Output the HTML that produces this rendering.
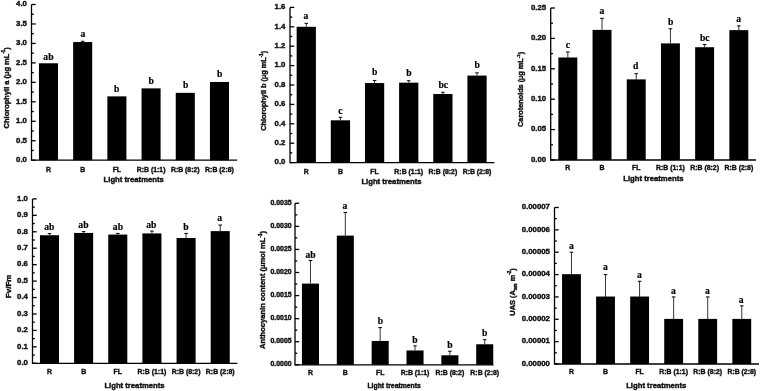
<!DOCTYPE html>
<html><head><meta charset="utf-8"><style>
html,body{margin:0;padding:0;background:#fff;}
svg{display:block;}
.s{stroke:#111;stroke-width:0.4px;}
.l{stroke:#000;stroke-width:0.2px;}
</style></head><body>
<svg width="760" height="391" viewBox="0 0 760 391">
<defs>
<filter id="bs" x="0" y="0" width="760" height="391" filterUnits="userSpaceOnUse"><feGaussianBlur stdDeviation="0.7"/></filter>
<filter id="bt" x="0" y="0" width="760" height="391" filterUnits="userSpaceOnUse"><feGaussianBlur stdDeviation="0.5"/></filter>
</defs>
<rect width="760" height="391" fill="#fff"/>
<g filter="url(#bs)">
<rect x="38.95" y="63.28" width="19.05" height="96.92" fill="#000"/>
<rect x="73.15" y="42.06" width="19.05" height="118.14" fill="#000"/>
<line x1="82.68" y1="42.06" x2="82.68" y2="41.28" stroke="#000" stroke-width="0.8"/>
<line x1="80.88" y1="41.28" x2="84.48" y2="41.28" stroke="#000" stroke-width="1"/>
<rect x="107.35" y="96.36" width="19.05" height="63.84" fill="#000"/>
<rect x="141.55" y="88.38" width="19.05" height="71.82" fill="#000"/>
<rect x="175.75" y="92.86" width="19.05" height="67.34" fill="#000"/>
<rect x="209.95" y="81.96" width="19.05" height="78.24" fill="#000"/>
<path d="M31.5 4.5 V160.2 H237.2" fill="none" stroke="#000" stroke-width="1.3"/>
<line x1="31.5" y1="160.2" x2="35.7" y2="160.2" stroke="#000" stroke-width="1.3"/>
<line x1="31.5" y1="150.47" x2="33.8" y2="150.47" stroke="#000" stroke-width="1.3"/>
<line x1="31.5" y1="140.74" x2="35.7" y2="140.74" stroke="#000" stroke-width="1.3"/>
<line x1="31.5" y1="131.01" x2="33.8" y2="131.01" stroke="#000" stroke-width="1.3"/>
<line x1="31.5" y1="121.27" x2="35.7" y2="121.27" stroke="#000" stroke-width="1.3"/>
<line x1="31.5" y1="111.54" x2="33.8" y2="111.54" stroke="#000" stroke-width="1.3"/>
<line x1="31.5" y1="101.81" x2="35.7" y2="101.81" stroke="#000" stroke-width="1.3"/>
<line x1="31.5" y1="92.08" x2="33.8" y2="92.08" stroke="#000" stroke-width="1.3"/>
<line x1="31.5" y1="82.35" x2="35.7" y2="82.35" stroke="#000" stroke-width="1.3"/>
<line x1="31.5" y1="72.62" x2="33.8" y2="72.62" stroke="#000" stroke-width="1.3"/>
<line x1="31.5" y1="62.89" x2="35.7" y2="62.89" stroke="#000" stroke-width="1.3"/>
<line x1="31.5" y1="53.16" x2="33.8" y2="53.16" stroke="#000" stroke-width="1.3"/>
<line x1="31.5" y1="43.42" x2="35.7" y2="43.42" stroke="#000" stroke-width="1.3"/>
<line x1="31.5" y1="33.69" x2="33.8" y2="33.69" stroke="#000" stroke-width="1.3"/>
<line x1="31.5" y1="23.96" x2="35.7" y2="23.96" stroke="#000" stroke-width="1.3"/>
<line x1="31.5" y1="14.23" x2="33.8" y2="14.23" stroke="#000" stroke-width="1.3"/>
<line x1="31.5" y1="4.5" x2="35.7" y2="4.5" stroke="#000" stroke-width="1.3"/>
<rect x="296.65" y="26.8" width="19.25" height="135.8" fill="#000"/>
<line x1="306.27" y1="26.8" x2="306.27" y2="23.31" stroke="#000" stroke-width="0.8"/>
<line x1="304.47" y1="23.31" x2="308.07" y2="23.31" stroke="#000" stroke-width="1"/>
<rect x="330.8" y="120.31" width="19.25" height="42.29" fill="#000"/>
<line x1="340.42" y1="120.31" x2="340.42" y2="117.3" stroke="#000" stroke-width="0.8"/>
<line x1="338.62" y1="117.3" x2="342.22" y2="117.3" stroke="#000" stroke-width="1"/>
<rect x="364.95" y="83.06" width="19.25" height="79.54" fill="#000"/>
<line x1="374.57" y1="83.06" x2="374.57" y2="80.44" stroke="#000" stroke-width="0.8"/>
<line x1="372.77" y1="80.44" x2="376.38" y2="80.44" stroke="#000" stroke-width="1"/>
<rect x="399.1" y="82.67" width="19.25" height="79.93" fill="#000"/>
<line x1="408.72" y1="82.67" x2="408.72" y2="80.73" stroke="#000" stroke-width="0.8"/>
<line x1="406.92" y1="80.73" x2="410.52" y2="80.73" stroke="#000" stroke-width="1"/>
<rect x="433.25" y="94.02" width="19.25" height="68.58" fill="#000"/>
<line x1="442.88" y1="94.02" x2="442.88" y2="92.28" stroke="#000" stroke-width="0.8"/>
<line x1="441.07" y1="92.28" x2="444.68" y2="92.28" stroke="#000" stroke-width="1"/>
<rect x="467.4" y="75.59" width="19.25" height="87.01" fill="#000"/>
<line x1="477.02" y1="75.59" x2="477.02" y2="72.88" stroke="#000" stroke-width="0.8"/>
<line x1="475.22" y1="72.88" x2="478.82" y2="72.88" stroke="#000" stroke-width="1"/>
<path d="M290 7.4 V162.6 H494.4" fill="none" stroke="#000" stroke-width="1.3"/>
<line x1="290" y1="162.6" x2="294.2" y2="162.6" stroke="#000" stroke-width="1.3"/>
<line x1="290" y1="152.9" x2="292.3" y2="152.9" stroke="#000" stroke-width="1.3"/>
<line x1="290" y1="143.2" x2="294.2" y2="143.2" stroke="#000" stroke-width="1.3"/>
<line x1="290" y1="133.5" x2="292.3" y2="133.5" stroke="#000" stroke-width="1.3"/>
<line x1="290" y1="123.8" x2="294.2" y2="123.8" stroke="#000" stroke-width="1.3"/>
<line x1="290" y1="114.1" x2="292.3" y2="114.1" stroke="#000" stroke-width="1.3"/>
<line x1="290" y1="104.4" x2="294.2" y2="104.4" stroke="#000" stroke-width="1.3"/>
<line x1="290" y1="94.7" x2="292.3" y2="94.7" stroke="#000" stroke-width="1.3"/>
<line x1="290" y1="85" x2="294.2" y2="85" stroke="#000" stroke-width="1.3"/>
<line x1="290" y1="75.3" x2="292.3" y2="75.3" stroke="#000" stroke-width="1.3"/>
<line x1="290" y1="65.6" x2="294.2" y2="65.6" stroke="#000" stroke-width="1.3"/>
<line x1="290" y1="55.9" x2="292.3" y2="55.9" stroke="#000" stroke-width="1.3"/>
<line x1="290" y1="46.2" x2="294.2" y2="46.2" stroke="#000" stroke-width="1.3"/>
<line x1="290" y1="36.5" x2="292.3" y2="36.5" stroke="#000" stroke-width="1.3"/>
<line x1="290" y1="26.8" x2="294.2" y2="26.8" stroke="#000" stroke-width="1.3"/>
<line x1="290" y1="17.1" x2="292.3" y2="17.1" stroke="#000" stroke-width="1.3"/>
<line x1="290" y1="7.4" x2="294.2" y2="7.4" stroke="#000" stroke-width="1.3"/>
<rect x="558.35" y="57.49" width="18.95" height="102.51" fill="#000"/>
<line x1="567.83" y1="57.49" x2="567.83" y2="52.02" stroke="#000" stroke-width="0.8"/>
<line x1="566.03" y1="52.02" x2="569.62" y2="52.02" stroke="#000" stroke-width="1"/>
<rect x="592.55" y="29.89" width="18.95" height="130.11" fill="#000"/>
<line x1="602.03" y1="29.89" x2="602.03" y2="18.34" stroke="#000" stroke-width="0.8"/>
<line x1="600.23" y1="18.34" x2="603.83" y2="18.34" stroke="#000" stroke-width="1"/>
<rect x="626.75" y="79.38" width="18.95" height="80.62" fill="#000"/>
<line x1="636.23" y1="79.38" x2="636.23" y2="73.66" stroke="#000" stroke-width="0.8"/>
<line x1="634.43" y1="73.66" x2="638.02" y2="73.66" stroke="#000" stroke-width="1"/>
<rect x="660.95" y="43.39" width="18.95" height="116.61" fill="#000"/>
<line x1="670.43" y1="43.39" x2="670.43" y2="28.79" stroke="#000" stroke-width="0.8"/>
<line x1="668.63" y1="28.79" x2="672.23" y2="28.79" stroke="#000" stroke-width="1"/>
<rect x="695.15" y="47.22" width="18.95" height="112.78" fill="#000"/>
<line x1="704.63" y1="47.22" x2="704.63" y2="44.48" stroke="#000" stroke-width="0.8"/>
<line x1="702.83" y1="44.48" x2="706.43" y2="44.48" stroke="#000" stroke-width="1"/>
<rect x="729.35" y="30.13" width="18.95" height="129.87" fill="#000"/>
<line x1="738.83" y1="30.13" x2="738.83" y2="25.88" stroke="#000" stroke-width="0.8"/>
<line x1="737.03" y1="25.88" x2="740.62" y2="25.88" stroke="#000" stroke-width="1"/>
<path d="M550.7 8 V160 H756" fill="none" stroke="#000" stroke-width="1.3"/>
<line x1="550.7" y1="160" x2="554.9" y2="160" stroke="#000" stroke-width="1.3"/>
<line x1="550.7" y1="144.8" x2="553" y2="144.8" stroke="#000" stroke-width="1.3"/>
<line x1="550.7" y1="129.6" x2="554.9" y2="129.6" stroke="#000" stroke-width="1.3"/>
<line x1="550.7" y1="114.4" x2="553" y2="114.4" stroke="#000" stroke-width="1.3"/>
<line x1="550.7" y1="99.2" x2="554.9" y2="99.2" stroke="#000" stroke-width="1.3"/>
<line x1="550.7" y1="84" x2="553" y2="84" stroke="#000" stroke-width="1.3"/>
<line x1="550.7" y1="68.8" x2="554.9" y2="68.8" stroke="#000" stroke-width="1.3"/>
<line x1="550.7" y1="53.6" x2="553" y2="53.6" stroke="#000" stroke-width="1.3"/>
<line x1="550.7" y1="38.4" x2="554.9" y2="38.4" stroke="#000" stroke-width="1.3"/>
<line x1="550.7" y1="23.2" x2="553" y2="23.2" stroke="#000" stroke-width="1.3"/>
<line x1="550.7" y1="8" x2="554.9" y2="8" stroke="#000" stroke-width="1.3"/>
<rect x="39.95" y="235.23" width="19.05" height="128.07" fill="#000"/>
<line x1="49.48" y1="235.23" x2="49.48" y2="233.59" stroke="#000" stroke-width="0.8"/>
<line x1="47.68" y1="233.59" x2="51.27" y2="233.59" stroke="#000" stroke-width="1"/>
<rect x="74.1" y="232.93" width="19.05" height="130.37" fill="#000"/>
<line x1="83.62" y1="232.93" x2="83.62" y2="231.62" stroke="#000" stroke-width="0.8"/>
<line x1="81.83" y1="231.62" x2="85.42" y2="231.62" stroke="#000" stroke-width="1"/>
<rect x="108.25" y="234.57" width="19.05" height="128.73" fill="#000"/>
<line x1="117.78" y1="234.57" x2="117.78" y2="233.42" stroke="#000" stroke-width="0.8"/>
<line x1="115.98" y1="233.42" x2="119.58" y2="233.42" stroke="#000" stroke-width="1"/>
<rect x="142.4" y="233.42" width="19.05" height="129.88" fill="#000"/>
<line x1="151.92" y1="233.42" x2="151.92" y2="231.12" stroke="#000" stroke-width="0.8"/>
<line x1="150.12" y1="231.12" x2="153.72" y2="231.12" stroke="#000" stroke-width="1"/>
<rect x="176.55" y="238.03" width="19.05" height="125.27" fill="#000"/>
<line x1="186.08" y1="238.03" x2="186.08" y2="233.42" stroke="#000" stroke-width="0.8"/>
<line x1="184.28" y1="233.42" x2="187.88" y2="233.42" stroke="#000" stroke-width="1"/>
<rect x="210.7" y="231.12" width="19.05" height="132.18" fill="#000"/>
<line x1="220.22" y1="231.12" x2="220.22" y2="225.04" stroke="#000" stroke-width="0.8"/>
<line x1="218.42" y1="225.04" x2="222.03" y2="225.04" stroke="#000" stroke-width="1"/>
<path d="M32.5 198.9 V363.3 H237.4" fill="none" stroke="#000" stroke-width="1.3"/>
<line x1="32.5" y1="363.3" x2="36.7" y2="363.3" stroke="#000" stroke-width="1.3"/>
<line x1="32.5" y1="355.08" x2="34.8" y2="355.08" stroke="#000" stroke-width="1.3"/>
<line x1="32.5" y1="346.86" x2="36.7" y2="346.86" stroke="#000" stroke-width="1.3"/>
<line x1="32.5" y1="338.64" x2="34.8" y2="338.64" stroke="#000" stroke-width="1.3"/>
<line x1="32.5" y1="330.42" x2="36.7" y2="330.42" stroke="#000" stroke-width="1.3"/>
<line x1="32.5" y1="322.2" x2="34.8" y2="322.2" stroke="#000" stroke-width="1.3"/>
<line x1="32.5" y1="313.98" x2="36.7" y2="313.98" stroke="#000" stroke-width="1.3"/>
<line x1="32.5" y1="305.76" x2="34.8" y2="305.76" stroke="#000" stroke-width="1.3"/>
<line x1="32.5" y1="297.54" x2="36.7" y2="297.54" stroke="#000" stroke-width="1.3"/>
<line x1="32.5" y1="289.32" x2="34.8" y2="289.32" stroke="#000" stroke-width="1.3"/>
<line x1="32.5" y1="281.1" x2="36.7" y2="281.1" stroke="#000" stroke-width="1.3"/>
<line x1="32.5" y1="272.88" x2="34.8" y2="272.88" stroke="#000" stroke-width="1.3"/>
<line x1="32.5" y1="264.66" x2="36.7" y2="264.66" stroke="#000" stroke-width="1.3"/>
<line x1="32.5" y1="256.44" x2="34.8" y2="256.44" stroke="#000" stroke-width="1.3"/>
<line x1="32.5" y1="248.22" x2="36.7" y2="248.22" stroke="#000" stroke-width="1.3"/>
<line x1="32.5" y1="240" x2="34.8" y2="240" stroke="#000" stroke-width="1.3"/>
<line x1="32.5" y1="231.78" x2="36.7" y2="231.78" stroke="#000" stroke-width="1.3"/>
<line x1="32.5" y1="223.56" x2="34.8" y2="223.56" stroke="#000" stroke-width="1.3"/>
<line x1="32.5" y1="215.34" x2="36.7" y2="215.34" stroke="#000" stroke-width="1.3"/>
<line x1="32.5" y1="207.12" x2="34.8" y2="207.12" stroke="#000" stroke-width="1.3"/>
<line x1="32.5" y1="198.9" x2="36.7" y2="198.9" stroke="#000" stroke-width="1.3"/>
<rect x="301.95" y="283.59" width="17.05" height="81.21" fill="#000"/>
<line x1="310.47" y1="283.59" x2="310.47" y2="260.52" stroke="#000" stroke-width="0.8"/>
<line x1="308.67" y1="260.52" x2="312.27" y2="260.52" stroke="#000" stroke-width="1"/>
<rect x="336.8" y="235.6" width="17.05" height="129.2" fill="#000"/>
<line x1="345.32" y1="235.6" x2="345.32" y2="212.53" stroke="#000" stroke-width="0.8"/>
<line x1="343.52" y1="212.53" x2="347.12" y2="212.53" stroke="#000" stroke-width="1"/>
<rect x="371.65" y="340.94" width="17.05" height="23.86" fill="#000"/>
<line x1="380.17" y1="340.94" x2="380.17" y2="327.61" stroke="#000" stroke-width="0.8"/>
<line x1="378.37" y1="327.61" x2="381.97" y2="327.61" stroke="#000" stroke-width="1"/>
<rect x="406.5" y="350.45" width="17.05" height="14.35" fill="#000"/>
<line x1="415.02" y1="350.45" x2="415.02" y2="345.88" stroke="#000" stroke-width="0.8"/>
<line x1="413.22" y1="345.88" x2="416.82" y2="345.88" stroke="#000" stroke-width="1"/>
<rect x="441.35" y="355.29" width="17.05" height="9.51" fill="#000"/>
<line x1="449.88" y1="355.29" x2="449.88" y2="351.19" stroke="#000" stroke-width="0.8"/>
<line x1="448.07" y1="351.19" x2="451.68" y2="351.19" stroke="#000" stroke-width="1"/>
<rect x="476.2" y="344.27" width="17.05" height="20.53" fill="#000"/>
<line x1="484.72" y1="344.27" x2="484.72" y2="339.7" stroke="#000" stroke-width="0.8"/>
<line x1="482.92" y1="339.7" x2="486.52" y2="339.7" stroke="#000" stroke-width="1"/>
<path d="M295 203.3 V364.8 H493.5" fill="none" stroke="#000" stroke-width="1.3"/>
<line x1="295" y1="364.8" x2="299.2" y2="364.8" stroke="#000" stroke-width="1.3"/>
<line x1="295" y1="353.26" x2="297.3" y2="353.26" stroke="#000" stroke-width="1.3"/>
<line x1="295" y1="341.73" x2="299.2" y2="341.73" stroke="#000" stroke-width="1.3"/>
<line x1="295" y1="330.19" x2="297.3" y2="330.19" stroke="#000" stroke-width="1.3"/>
<line x1="295" y1="318.66" x2="299.2" y2="318.66" stroke="#000" stroke-width="1.3"/>
<line x1="295" y1="307.12" x2="297.3" y2="307.12" stroke="#000" stroke-width="1.3"/>
<line x1="295" y1="295.59" x2="299.2" y2="295.59" stroke="#000" stroke-width="1.3"/>
<line x1="295" y1="284.05" x2="297.3" y2="284.05" stroke="#000" stroke-width="1.3"/>
<line x1="295" y1="272.51" x2="299.2" y2="272.51" stroke="#000" stroke-width="1.3"/>
<line x1="295" y1="260.98" x2="297.3" y2="260.98" stroke="#000" stroke-width="1.3"/>
<line x1="295" y1="249.44" x2="299.2" y2="249.44" stroke="#000" stroke-width="1.3"/>
<line x1="295" y1="237.91" x2="297.3" y2="237.91" stroke="#000" stroke-width="1.3"/>
<line x1="295" y1="226.37" x2="299.2" y2="226.37" stroke="#000" stroke-width="1.3"/>
<line x1="295" y1="214.84" x2="297.3" y2="214.84" stroke="#000" stroke-width="1.3"/>
<line x1="295" y1="203.3" x2="299.2" y2="203.3" stroke="#000" stroke-width="1.3"/>
<rect x="562.05" y="274.17" width="18.85" height="89.83" fill="#000"/>
<line x1="571.47" y1="274.57" x2="571.47" y2="252.21" stroke="#000" stroke-width="0.8"/>
<line x1="569.67" y1="252.21" x2="573.27" y2="252.21" stroke="#000" stroke-width="1"/>
<rect x="596.11" y="296.53" width="18.85" height="67.47" fill="#000"/>
<line x1="605.53" y1="296.93" x2="605.53" y2="274.57" stroke="#000" stroke-width="0.8"/>
<line x1="603.73" y1="274.57" x2="607.33" y2="274.57" stroke="#000" stroke-width="1"/>
<rect x="630.17" y="296.53" width="18.85" height="67.47" fill="#000"/>
<line x1="639.59" y1="296.93" x2="639.59" y2="281.28" stroke="#000" stroke-width="0.8"/>
<line x1="637.79" y1="281.28" x2="641.39" y2="281.28" stroke="#000" stroke-width="1"/>
<rect x="664.23" y="318.89" width="18.85" height="45.11" fill="#000"/>
<line x1="673.65" y1="319.29" x2="673.65" y2="296.93" stroke="#000" stroke-width="0.8"/>
<line x1="671.86" y1="296.93" x2="675.45" y2="296.93" stroke="#000" stroke-width="1"/>
<rect x="698.29" y="318.89" width="18.85" height="45.11" fill="#000"/>
<line x1="707.71" y1="319.29" x2="707.71" y2="296.93" stroke="#000" stroke-width="0.8"/>
<line x1="705.91" y1="296.93" x2="709.51" y2="296.93" stroke="#000" stroke-width="1"/>
<rect x="732.35" y="318.89" width="18.85" height="45.11" fill="#000"/>
<line x1="741.77" y1="319.29" x2="741.77" y2="305.87" stroke="#000" stroke-width="0.8"/>
<line x1="739.97" y1="305.87" x2="743.57" y2="305.87" stroke="#000" stroke-width="1"/>
<path d="M554.5 207.5 V364 H759" fill="none" stroke="#000" stroke-width="1.3"/>
<line x1="554.5" y1="364" x2="558.7" y2="364" stroke="#000" stroke-width="1.3"/>
<line x1="554.5" y1="352.82" x2="556.8" y2="352.82" stroke="#000" stroke-width="1.3"/>
<line x1="554.5" y1="341.64" x2="558.7" y2="341.64" stroke="#000" stroke-width="1.3"/>
<line x1="554.5" y1="330.46" x2="556.8" y2="330.46" stroke="#000" stroke-width="1.3"/>
<line x1="554.5" y1="319.29" x2="558.7" y2="319.29" stroke="#000" stroke-width="1.3"/>
<line x1="554.5" y1="308.11" x2="556.8" y2="308.11" stroke="#000" stroke-width="1.3"/>
<line x1="554.5" y1="296.93" x2="558.7" y2="296.93" stroke="#000" stroke-width="1.3"/>
<line x1="554.5" y1="285.75" x2="556.8" y2="285.75" stroke="#000" stroke-width="1.3"/>
<line x1="554.5" y1="274.57" x2="558.7" y2="274.57" stroke="#000" stroke-width="1.3"/>
<line x1="554.5" y1="263.39" x2="556.8" y2="263.39" stroke="#000" stroke-width="1.3"/>
<line x1="554.5" y1="252.21" x2="558.7" y2="252.21" stroke="#000" stroke-width="1.3"/>
<line x1="554.5" y1="241.04" x2="556.8" y2="241.04" stroke="#000" stroke-width="1.3"/>
<line x1="554.5" y1="229.86" x2="558.7" y2="229.86" stroke="#000" stroke-width="1.3"/>
<line x1="554.5" y1="218.68" x2="556.8" y2="218.68" stroke="#000" stroke-width="1.3"/>
<line x1="554.5" y1="207.5" x2="558.7" y2="207.5" stroke="#000" stroke-width="1.3"/>
</g>
<g filter="url(#bt)">
<text x="48.4" y="59.7" text-anchor="middle" class="l" font-family='"Liberation Serif", serif' font-weight="bold" font-size="9.6" fill="#000">ab</text>
<text x="48.48" y="172.17" text-anchor="middle" class="s" font-family='"Liberation Sans", sans-serif' font-weight="bold" font-size="6.9" fill="#111">R</text>
<text x="82.8" y="37" text-anchor="middle" class="l" font-family='"Liberation Serif", serif' font-weight="bold" font-size="9.6" fill="#000">a</text>
<text x="82.68" y="172.17" text-anchor="middle" class="s" font-family='"Liberation Sans", sans-serif' font-weight="bold" font-size="6.9" fill="#111">B</text>
<text x="116.6" y="91.9" text-anchor="middle" class="l" font-family='"Liberation Serif", serif' font-weight="bold" font-size="9.6" fill="#000">b</text>
<text x="116.88" y="172.17" text-anchor="middle" class="s" font-family='"Liberation Sans", sans-serif' font-weight="bold" font-size="6.9" fill="#111">FL</text>
<text x="151.2" y="83.6" text-anchor="middle" class="l" font-family='"Liberation Serif", serif' font-weight="bold" font-size="9.6" fill="#000">b</text>
<text x="151.08" y="172.17" text-anchor="middle" class="s" font-family='"Liberation Sans", sans-serif' font-weight="bold" font-size="6.9" fill="#111">R:B (1:1)</text>
<text x="185.6" y="87.9" text-anchor="middle" class="l" font-family='"Liberation Serif", serif' font-weight="bold" font-size="9.6" fill="#000">b</text>
<text x="185.28" y="172.17" text-anchor="middle" class="s" font-family='"Liberation Sans", sans-serif' font-weight="bold" font-size="6.9" fill="#111">R:B (8:2)</text>
<text x="219.7" y="77.4" text-anchor="middle" class="l" font-family='"Liberation Serif", serif' font-weight="bold" font-size="9.6" fill="#000">b</text>
<text x="219.47" y="172.17" text-anchor="middle" class="s" font-family='"Liberation Sans", sans-serif' font-weight="bold" font-size="6.9" fill="#111">R:B (2:8)</text>
<text x="26.9" y="162.03" text-anchor="end" class="s" font-family='"Liberation Sans", sans-serif' font-weight="bold" font-size="7.8" fill="#111">0.0</text>
<text x="26.9" y="142.57" text-anchor="end" class="s" font-family='"Liberation Sans", sans-serif' font-weight="bold" font-size="7.8" fill="#111">0.5</text>
<text x="26.9" y="123.11" text-anchor="end" class="s" font-family='"Liberation Sans", sans-serif' font-weight="bold" font-size="7.8" fill="#111">1.0</text>
<text x="26.9" y="103.65" text-anchor="end" class="s" font-family='"Liberation Sans", sans-serif' font-weight="bold" font-size="7.8" fill="#111">1.5</text>
<text x="26.9" y="84.18" text-anchor="end" class="s" font-family='"Liberation Sans", sans-serif' font-weight="bold" font-size="7.8" fill="#111">2.0</text>
<text x="26.9" y="64.72" text-anchor="end" class="s" font-family='"Liberation Sans", sans-serif' font-weight="bold" font-size="7.8" fill="#111">2.5</text>
<text x="26.9" y="45.26" text-anchor="end" class="s" font-family='"Liberation Sans", sans-serif' font-weight="bold" font-size="7.8" fill="#111">3.0</text>
<text x="26.9" y="25.8" text-anchor="end" class="s" font-family='"Liberation Sans", sans-serif' font-weight="bold" font-size="7.8" fill="#111">3.5</text>
<text x="26.9" y="6.33" text-anchor="end" class="s" font-family='"Liberation Sans", sans-serif' font-weight="bold" font-size="7.8" fill="#111">4.0</text>
<text x="133.7" y="181.61" text-anchor="middle" class="s" font-family='"Liberation Sans", sans-serif' font-weight="bold" font-size="7.7" fill="#111">Light treatments</text>
<text x="0" y="0" transform="translate(8.8 87.8) rotate(-90)" text-anchor="middle" class="s" font-family='"Liberation Sans", sans-serif' font-weight="bold" font-size="7.5" fill="#111">Chlorophyll a (<tspan font-weight="normal">µ</tspan>g mL<tspan font-size="4.5" dy="-3.4">-1</tspan><tspan dy="3.4">)</tspan></text>
<text x="306" y="18.6" text-anchor="middle" class="l" font-family='"Liberation Serif", serif' font-weight="bold" font-size="9.6" fill="#000">a</text>
<text x="306.27" y="173.67" text-anchor="middle" class="s" font-family='"Liberation Sans", sans-serif' font-weight="bold" font-size="6.9" fill="#111">R</text>
<text x="340.5" y="114" text-anchor="middle" class="l" font-family='"Liberation Serif", serif' font-weight="bold" font-size="9.6" fill="#000">c</text>
<text x="340.42" y="173.67" text-anchor="middle" class="s" font-family='"Liberation Sans", sans-serif' font-weight="bold" font-size="6.9" fill="#111">B</text>
<text x="374.7" y="75.4" text-anchor="middle" class="l" font-family='"Liberation Serif", serif' font-weight="bold" font-size="9.6" fill="#000">b</text>
<text x="374.57" y="173.67" text-anchor="middle" class="s" font-family='"Liberation Sans", sans-serif' font-weight="bold" font-size="6.9" fill="#111">FL</text>
<text x="408.8" y="76.1" text-anchor="middle" class="l" font-family='"Liberation Serif", serif' font-weight="bold" font-size="9.6" fill="#000">b</text>
<text x="408.72" y="173.67" text-anchor="middle" class="s" font-family='"Liberation Sans", sans-serif' font-weight="bold" font-size="6.9" fill="#111">R:B (1:1)</text>
<text x="443.2" y="88.3" text-anchor="middle" class="l" font-family='"Liberation Serif", serif' font-weight="bold" font-size="9.6" fill="#000">bc</text>
<text x="442.88" y="173.67" text-anchor="middle" class="s" font-family='"Liberation Sans", sans-serif' font-weight="bold" font-size="6.9" fill="#111">R:B (8:2)</text>
<text x="477.1" y="67.9" text-anchor="middle" class="l" font-family='"Liberation Serif", serif' font-weight="bold" font-size="9.6" fill="#000">b</text>
<text x="477.02" y="173.67" text-anchor="middle" class="s" font-family='"Liberation Sans", sans-serif' font-weight="bold" font-size="6.9" fill="#111">R:B (2:8)</text>
<text x="285.4" y="164.43" text-anchor="end" class="s" font-family='"Liberation Sans", sans-serif' font-weight="bold" font-size="7.8" fill="#111">0.0</text>
<text x="285.4" y="145.03" text-anchor="end" class="s" font-family='"Liberation Sans", sans-serif' font-weight="bold" font-size="7.8" fill="#111">0.2</text>
<text x="285.4" y="125.63" text-anchor="end" class="s" font-family='"Liberation Sans", sans-serif' font-weight="bold" font-size="7.8" fill="#111">0.4</text>
<text x="285.4" y="106.23" text-anchor="end" class="s" font-family='"Liberation Sans", sans-serif' font-weight="bold" font-size="7.8" fill="#111">0.6</text>
<text x="285.4" y="86.83" text-anchor="end" class="s" font-family='"Liberation Sans", sans-serif' font-weight="bold" font-size="7.8" fill="#111">0.8</text>
<text x="285.4" y="67.43" text-anchor="end" class="s" font-family='"Liberation Sans", sans-serif' font-weight="bold" font-size="7.8" fill="#111">1.0</text>
<text x="285.4" y="48.03" text-anchor="end" class="s" font-family='"Liberation Sans", sans-serif' font-weight="bold" font-size="7.8" fill="#111">1.2</text>
<text x="285.4" y="28.63" text-anchor="end" class="s" font-family='"Liberation Sans", sans-serif' font-weight="bold" font-size="7.8" fill="#111">1.4</text>
<text x="285.4" y="9.23" text-anchor="end" class="s" font-family='"Liberation Sans", sans-serif' font-weight="bold" font-size="7.8" fill="#111">1.6</text>
<text x="391.5" y="183.91" text-anchor="middle" class="s" font-family='"Liberation Sans", sans-serif' font-weight="bold" font-size="7.7" fill="#111">Light treatments</text>
<text x="0" y="0" transform="translate(266.2 90.8) rotate(-90)" text-anchor="middle" class="s" font-family='"Liberation Sans", sans-serif' font-weight="bold" font-size="7.35" fill="#111">Chlorophyll b (<tspan font-weight="normal">µ</tspan>g mL<tspan font-size="4.409999999999999" dy="-3.4">-1</tspan><tspan dy="3.4">)</tspan></text>
<text x="568" y="47.8" text-anchor="middle" class="l" font-family='"Liberation Serif", serif' font-weight="bold" font-size="9.6" fill="#000">c</text>
<text x="567.83" y="169.97" text-anchor="middle" class="s" font-family='"Liberation Sans", sans-serif' font-weight="bold" font-size="6.9" fill="#111">R</text>
<text x="602" y="14.3" text-anchor="middle" class="l" font-family='"Liberation Serif", serif' font-weight="bold" font-size="9.6" fill="#000">a</text>
<text x="602.03" y="169.97" text-anchor="middle" class="s" font-family='"Liberation Sans", sans-serif' font-weight="bold" font-size="6.9" fill="#111">B</text>
<text x="635.6" y="69.3" text-anchor="middle" class="l" font-family='"Liberation Serif", serif' font-weight="bold" font-size="9.6" fill="#000">d</text>
<text x="636.23" y="169.97" text-anchor="middle" class="s" font-family='"Liberation Sans", sans-serif' font-weight="bold" font-size="6.9" fill="#111">FL</text>
<text x="670.7" y="25.2" text-anchor="middle" class="l" font-family='"Liberation Serif", serif' font-weight="bold" font-size="9.6" fill="#000">b</text>
<text x="670.43" y="169.97" text-anchor="middle" class="s" font-family='"Liberation Sans", sans-serif' font-weight="bold" font-size="6.9" fill="#111">R:B (1:1)</text>
<text x="704.8" y="41.1" text-anchor="middle" class="l" font-family='"Liberation Serif", serif' font-weight="bold" font-size="9.6" fill="#000">bc</text>
<text x="704.63" y="169.97" text-anchor="middle" class="s" font-family='"Liberation Sans", sans-serif' font-weight="bold" font-size="6.9" fill="#111">R:B (8:2)</text>
<text x="738.6" y="21.5" text-anchor="middle" class="l" font-family='"Liberation Serif", serif' font-weight="bold" font-size="9.6" fill="#000">a</text>
<text x="738.83" y="169.97" text-anchor="middle" class="s" font-family='"Liberation Sans", sans-serif' font-weight="bold" font-size="6.9" fill="#111">R:B (2:8)</text>
<text x="546.1" y="161.83" text-anchor="end" class="s" font-family='"Liberation Sans", sans-serif' font-weight="bold" font-size="7.8" fill="#111">0.00</text>
<text x="546.1" y="131.43" text-anchor="end" class="s" font-family='"Liberation Sans", sans-serif' font-weight="bold" font-size="7.8" fill="#111">0.05</text>
<text x="546.1" y="101.03" text-anchor="end" class="s" font-family='"Liberation Sans", sans-serif' font-weight="bold" font-size="7.8" fill="#111">0.10</text>
<text x="546.1" y="70.63" text-anchor="end" class="s" font-family='"Liberation Sans", sans-serif' font-weight="bold" font-size="7.8" fill="#111">0.15</text>
<text x="546.1" y="40.23" text-anchor="end" class="s" font-family='"Liberation Sans", sans-serif' font-weight="bold" font-size="7.8" fill="#111">0.20</text>
<text x="546.1" y="9.83" text-anchor="end" class="s" font-family='"Liberation Sans", sans-serif' font-weight="bold" font-size="7.8" fill="#111">0.25</text>
<text x="653.4" y="181.31" text-anchor="middle" class="s" font-family='"Liberation Sans", sans-serif' font-weight="bold" font-size="7.7" fill="#111">Light treatments</text>
<text x="0" y="0" transform="translate(523.2 89.4) rotate(-90)" text-anchor="middle" class="s" font-family='"Liberation Sans", sans-serif' font-weight="bold" font-size="7.3" fill="#111">Carotenoids (<tspan font-weight="normal">µ</tspan>g mL<tspan font-size="4.38" dy="-3.4">-1</tspan><tspan dy="3.4">)</tspan></text>
<text x="49.2" y="230.1" text-anchor="middle" class="l" font-family='"Liberation Serif", serif' font-weight="bold" font-size="9.6" fill="#000">ab</text>
<text x="49.48" y="374.37" text-anchor="middle" class="s" font-family='"Liberation Sans", sans-serif' font-weight="bold" font-size="6.9" fill="#111">R</text>
<text x="83.4" y="227.8" text-anchor="middle" class="l" font-family='"Liberation Serif", serif' font-weight="bold" font-size="9.6" fill="#000">ab</text>
<text x="83.62" y="374.37" text-anchor="middle" class="s" font-family='"Liberation Sans", sans-serif' font-weight="bold" font-size="6.9" fill="#111">B</text>
<text x="117.9" y="230.1" text-anchor="middle" class="l" font-family='"Liberation Serif", serif' font-weight="bold" font-size="9.6" fill="#000">ab</text>
<text x="117.78" y="374.37" text-anchor="middle" class="s" font-family='"Liberation Sans", sans-serif' font-weight="bold" font-size="6.9" fill="#111">FL</text>
<text x="151.3" y="227.7" text-anchor="middle" class="l" font-family='"Liberation Serif", serif' font-weight="bold" font-size="9.6" fill="#000">ab</text>
<text x="151.92" y="374.37" text-anchor="middle" class="s" font-family='"Liberation Sans", sans-serif' font-weight="bold" font-size="6.9" fill="#111">R:B (1:1)</text>
<text x="185.8" y="229.9" text-anchor="middle" class="l" font-family='"Liberation Serif", serif' font-weight="bold" font-size="9.6" fill="#000">b</text>
<text x="186.08" y="374.37" text-anchor="middle" class="s" font-family='"Liberation Sans", sans-serif' font-weight="bold" font-size="6.9" fill="#111">R:B (8:2)</text>
<text x="219.7" y="221.4" text-anchor="middle" class="l" font-family='"Liberation Serif", serif' font-weight="bold" font-size="9.6" fill="#000">a</text>
<text x="220.22" y="374.37" text-anchor="middle" class="s" font-family='"Liberation Sans", sans-serif' font-weight="bold" font-size="6.9" fill="#111">R:B (2:8)</text>
<text x="27.9" y="365.13" text-anchor="end" class="s" font-family='"Liberation Sans", sans-serif' font-weight="bold" font-size="7.8" fill="#111">0.0</text>
<text x="27.9" y="348.69" text-anchor="end" class="s" font-family='"Liberation Sans", sans-serif' font-weight="bold" font-size="7.8" fill="#111">0.1</text>
<text x="27.9" y="332.25" text-anchor="end" class="s" font-family='"Liberation Sans", sans-serif' font-weight="bold" font-size="7.8" fill="#111">0.2</text>
<text x="27.9" y="315.81" text-anchor="end" class="s" font-family='"Liberation Sans", sans-serif' font-weight="bold" font-size="7.8" fill="#111">0.3</text>
<text x="27.9" y="299.37" text-anchor="end" class="s" font-family='"Liberation Sans", sans-serif' font-weight="bold" font-size="7.8" fill="#111">0.4</text>
<text x="27.9" y="282.93" text-anchor="end" class="s" font-family='"Liberation Sans", sans-serif' font-weight="bold" font-size="7.8" fill="#111">0.5</text>
<text x="27.9" y="266.49" text-anchor="end" class="s" font-family='"Liberation Sans", sans-serif' font-weight="bold" font-size="7.8" fill="#111">0.6</text>
<text x="27.9" y="250.05" text-anchor="end" class="s" font-family='"Liberation Sans", sans-serif' font-weight="bold" font-size="7.8" fill="#111">0.7</text>
<text x="27.9" y="233.61" text-anchor="end" class="s" font-family='"Liberation Sans", sans-serif' font-weight="bold" font-size="7.8" fill="#111">0.8</text>
<text x="27.9" y="217.17" text-anchor="end" class="s" font-family='"Liberation Sans", sans-serif' font-weight="bold" font-size="7.8" fill="#111">0.9</text>
<text x="27.9" y="200.73" text-anchor="end" class="s" font-family='"Liberation Sans", sans-serif' font-weight="bold" font-size="7.8" fill="#111">1.0</text>
<text x="134.5" y="387.61" text-anchor="middle" class="s" font-family='"Liberation Sans", sans-serif' font-weight="bold" font-size="7.7" fill="#111">Light treatments</text>
<text x="0" y="0" transform="translate(11 286.4) rotate(-90)" text-anchor="middle" class="s" font-family='"Liberation Sans", sans-serif' font-weight="bold" font-size="8.0" fill="#111">Fv/Fm</text>
<text x="310.5" y="257.6" text-anchor="middle" class="l" font-family='"Liberation Serif", serif' font-weight="bold" font-size="9.6" fill="#000">ab</text>
<text x="310.47" y="374.77" text-anchor="middle" class="s" font-family='"Liberation Sans", sans-serif' font-weight="bold" font-size="6.9" fill="#111">R</text>
<text x="345" y="209.2" text-anchor="middle" class="l" font-family='"Liberation Serif", serif' font-weight="bold" font-size="9.6" fill="#000">a</text>
<text x="345.32" y="374.77" text-anchor="middle" class="s" font-family='"Liberation Sans", sans-serif' font-weight="bold" font-size="6.9" fill="#111">B</text>
<text x="380.3" y="324.2" text-anchor="middle" class="l" font-family='"Liberation Serif", serif' font-weight="bold" font-size="9.6" fill="#000">b</text>
<text x="380.17" y="374.77" text-anchor="middle" class="s" font-family='"Liberation Sans", sans-serif' font-weight="bold" font-size="6.9" fill="#111">FL</text>
<text x="414.8" y="342.7" text-anchor="middle" class="l" font-family='"Liberation Serif", serif' font-weight="bold" font-size="9.6" fill="#000">b</text>
<text x="415.02" y="374.77" text-anchor="middle" class="s" font-family='"Liberation Sans", sans-serif' font-weight="bold" font-size="6.9" fill="#111">R:B (1:1)</text>
<text x="449.8" y="348" text-anchor="middle" class="l" font-family='"Liberation Serif", serif' font-weight="bold" font-size="9.6" fill="#000">b</text>
<text x="449.88" y="374.77" text-anchor="middle" class="s" font-family='"Liberation Sans", sans-serif' font-weight="bold" font-size="6.9" fill="#111">R:B (8:2)</text>
<text x="484.6" y="336.4" text-anchor="middle" class="l" font-family='"Liberation Serif", serif' font-weight="bold" font-size="9.6" fill="#000">b</text>
<text x="484.72" y="374.77" text-anchor="middle" class="s" font-family='"Liberation Sans", sans-serif' font-weight="bold" font-size="6.9" fill="#111">R:B (2:8)</text>
<text x="291.6" y="366.42" text-anchor="end" class="s" font-family='"Liberation Sans", sans-serif' font-weight="bold" font-size="6.9" fill="#111">0.0000</text>
<text x="291.6" y="343.35" text-anchor="end" class="s" font-family='"Liberation Sans", sans-serif' font-weight="bold" font-size="6.9" fill="#111">0.0005</text>
<text x="291.6" y="320.28" text-anchor="end" class="s" font-family='"Liberation Sans", sans-serif' font-weight="bold" font-size="6.9" fill="#111">0.0010</text>
<text x="291.6" y="297.21" text-anchor="end" class="s" font-family='"Liberation Sans", sans-serif' font-weight="bold" font-size="6.9" fill="#111">0.0015</text>
<text x="291.6" y="274.14" text-anchor="end" class="s" font-family='"Liberation Sans", sans-serif' font-weight="bold" font-size="6.9" fill="#111">0.0020</text>
<text x="291.6" y="251.06" text-anchor="end" class="s" font-family='"Liberation Sans", sans-serif' font-weight="bold" font-size="6.9" fill="#111">0.0025</text>
<text x="291.6" y="227.99" text-anchor="end" class="s" font-family='"Liberation Sans", sans-serif' font-weight="bold" font-size="6.9" fill="#111">0.0030</text>
<text x="291.6" y="204.92" text-anchor="end" class="s" font-family='"Liberation Sans", sans-serif' font-weight="bold" font-size="6.9" fill="#111">0.0035</text>
<text x="394.1" y="387.54" text-anchor="middle" class="s" font-family='"Liberation Sans", sans-serif' font-weight="bold" font-size="6.8" fill="#111">Light treatments</text>
<text x="0" y="0" transform="translate(265.3 290) rotate(-90)" text-anchor="middle" class="s" font-family='"Liberation Sans", sans-serif' font-weight="bold" font-size="7.6" fill="#111">Anthocyanin content (<tspan font-weight="normal">µ</tspan>mol mL<tspan font-size="4.56" dy="-3.4">-1</tspan><tspan dy="3.4">)</tspan></text>
<text x="571.4" y="248.9" text-anchor="middle" class="l" font-family='"Liberation Serif", serif' font-weight="bold" font-size="9.6" fill="#000">a</text>
<text x="571.47" y="374.47" text-anchor="middle" class="s" font-family='"Liberation Sans", sans-serif' font-weight="bold" font-size="6.9" fill="#111">R</text>
<text x="605.5" y="270.4" text-anchor="middle" class="l" font-family='"Liberation Serif", serif' font-weight="bold" font-size="9.6" fill="#000">a</text>
<text x="605.53" y="374.47" text-anchor="middle" class="s" font-family='"Liberation Sans", sans-serif' font-weight="bold" font-size="6.9" fill="#111">B</text>
<text x="639.5" y="277.6" text-anchor="middle" class="l" font-family='"Liberation Serif", serif' font-weight="bold" font-size="9.6" fill="#000">a</text>
<text x="639.59" y="374.47" text-anchor="middle" class="s" font-family='"Liberation Sans", sans-serif' font-weight="bold" font-size="6.9" fill="#111">FL</text>
<text x="673.5" y="293.9" text-anchor="middle" class="l" font-family='"Liberation Serif", serif' font-weight="bold" font-size="9.6" fill="#000">a</text>
<text x="673.65" y="374.47" text-anchor="middle" class="s" font-family='"Liberation Sans", sans-serif' font-weight="bold" font-size="6.9" fill="#111">R:B (1:1)</text>
<text x="707.3" y="293.9" text-anchor="middle" class="l" font-family='"Liberation Serif", serif' font-weight="bold" font-size="9.6" fill="#000">a</text>
<text x="707.71" y="374.47" text-anchor="middle" class="s" font-family='"Liberation Sans", sans-serif' font-weight="bold" font-size="6.9" fill="#111">R:B (8:2)</text>
<text x="741.2" y="302.9" text-anchor="middle" class="l" font-family='"Liberation Serif", serif' font-weight="bold" font-size="9.6" fill="#000">a</text>
<text x="741.77" y="374.47" text-anchor="middle" class="s" font-family='"Liberation Sans", sans-serif' font-weight="bold" font-size="6.9" fill="#111">R:B (2:8)</text>
<text x="549.9" y="365.83" text-anchor="end" class="s" font-family='"Liberation Sans", sans-serif' font-weight="bold" font-size="7.8" fill="#111">0.00000</text>
<text x="549.9" y="343.48" text-anchor="end" class="s" font-family='"Liberation Sans", sans-serif' font-weight="bold" font-size="7.8" fill="#111">0.00001</text>
<text x="549.9" y="321.12" text-anchor="end" class="s" font-family='"Liberation Sans", sans-serif' font-weight="bold" font-size="7.8" fill="#111">0.00002</text>
<text x="549.9" y="298.76" text-anchor="end" class="s" font-family='"Liberation Sans", sans-serif' font-weight="bold" font-size="7.8" fill="#111">0.00003</text>
<text x="549.9" y="276.4" text-anchor="end" class="s" font-family='"Liberation Sans", sans-serif' font-weight="bold" font-size="7.8" fill="#111">0.00004</text>
<text x="549.9" y="254.05" text-anchor="end" class="s" font-family='"Liberation Sans", sans-serif' font-weight="bold" font-size="7.8" fill="#111">0.00005</text>
<text x="549.9" y="231.69" text-anchor="end" class="s" font-family='"Liberation Sans", sans-serif' font-weight="bold" font-size="7.8" fill="#111">0.00006</text>
<text x="549.9" y="209.33" text-anchor="end" class="s" font-family='"Liberation Sans", sans-serif' font-weight="bold" font-size="7.8" fill="#111">0.00007</text>
<text x="656.3" y="387.81" text-anchor="middle" class="s" font-family='"Liberation Sans", sans-serif' font-weight="bold" font-size="7.7" fill="#111">Light treatments</text>
<text x="0" y="0" transform="translate(514.8 292) rotate(-90)" text-anchor="middle" class="s" font-family='"Liberation Sans", sans-serif' font-weight="bold" font-size="7.4" fill="#111">UAS (A<tspan font-size="4.07" dy="2.0">365</tspan><tspan dy="-2.0"> m</tspan><tspan font-size="4.44" dy="-3.8">-2</tspan><tspan dy="3.8">)</tspan></text>
</g>
</svg>
</body></html>
